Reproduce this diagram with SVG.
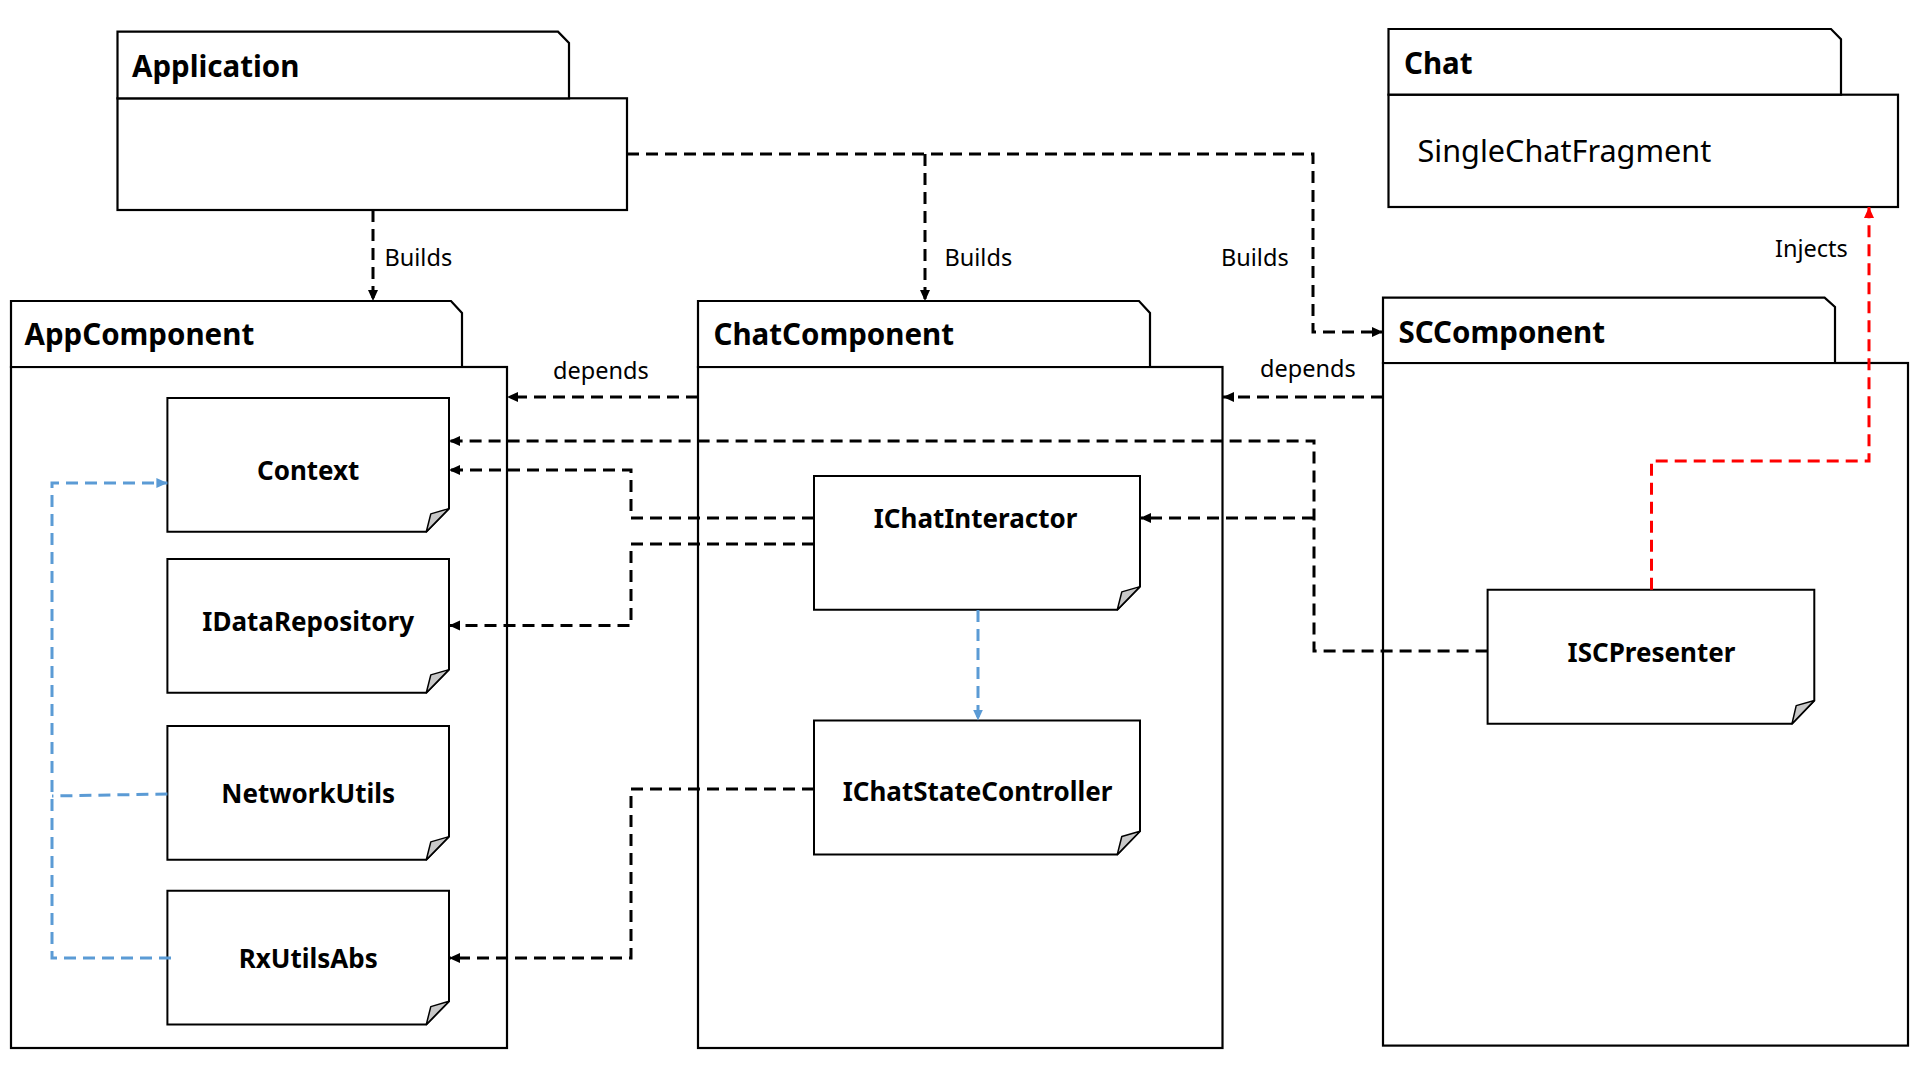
<svg xmlns="http://www.w3.org/2000/svg" width="1920" height="1080" viewBox="0 0 1920 1080">
<style>
  .pkg{fill:#fff;stroke:#000;stroke-width:2.2}
  .note{fill:#fff;stroke:#000;stroke-width:2}
  .fold{fill:#c8c8c8;stroke:#000;stroke-width:1.5;stroke-linejoin:round}
  .title{font-family:"Noto Sans","Open Sans",sans-serif;font-weight:bold;font-size:29.5px;fill:#000}
  .lbl{font-family:"Noto Sans","Open Sans",sans-serif;font-weight:bold;font-size:26px;fill:#000;text-anchor:middle}
  .txt{font-family:"Noto Sans","Open Sans",sans-serif;font-size:23.5px;fill:#000}
  .big{font-family:"Noto Sans","Open Sans",sans-serif;font-size:30.6px;fill:#000}
  .dk{fill:none;stroke:#000;stroke-width:3;stroke-dasharray:12 7}
  .bl{fill:none;stroke:#5B9BD5;stroke-width:3;stroke-dasharray:12 7}
  .rd{fill:none;stroke:#FF0000;stroke-width:3;stroke-dasharray:12 7}
</style>
<defs>
  <marker id="ak" markerUnits="userSpaceOnUse" markerWidth="12" markerHeight="12" refX="11" refY="6" orient="auto">
    <path d="M0,1 L11,6 L0,11 Z" fill="#000"/>
  </marker>
  <marker id="ab" markerUnits="userSpaceOnUse" markerWidth="12" markerHeight="12" refX="11" refY="6" orient="auto">
    <path d="M0,1 L11,6 L0,11 Z" fill="#5B9BD5"/>
  </marker>
  <marker id="ar" markerUnits="userSpaceOnUse" markerWidth="12" markerHeight="12" refX="11" refY="6" orient="auto">
    <path d="M0,1 L11,6 L0,11 Z" fill="#FF0000"/>
  </marker>
</defs>
<rect width="1920" height="1080" fill="#fff"/>

<g id="Application">
  <rect class="pkg" x="117.5" y="98.3" width="509.5" height="111.7"/>
  <path class="pkg" d="M117.5,31.7 H558 L569,43 V98.3 H117.5 Z"/>
  <text class="title" x="132" y="77">Application</text>
</g>

<g id="Chat">
  <rect class="pkg" x="1388.5" y="94.7" width="509.5" height="112.3"/>
  <path class="pkg" d="M1388.5,29 H1831 L1841,39.3 V94.7 H1388.5 Z"/>
  <text class="title" x="1404" y="74">Chat</text>
  <text class="big" x="1417.5" y="161.5">SingleChatFragment</text>
</g>

<g id="AppComponent">
  <rect class="pkg" x="11" y="367" width="496" height="681"/>
  <path class="pkg" d="M11,301 H451 L462,313 V367 H11 Z"/>
  <text class="title" x="24.5" y="345">AppComponent</text>
</g>

<g id="ChatComponent">
  <rect class="pkg" x="698" y="367" width="524.5" height="681"/>
  <path class="pkg" d="M698,301 H1139 L1150,313 V367 H698 Z"/>
  <text class="title" x="713.5" y="345">ChatComponent</text>
</g>

<g id="SCComponent">
  <rect class="pkg" x="1383" y="363" width="525" height="682.6"/>
  <path class="pkg" d="M1383,297.7 H1824.6 L1835,307 V363 H1383 Z"/>
  <text class="title" x="1398.5" y="342.7">SCComponent</text>
</g>

<g id="Context" transform="translate(167.4,398)">
  <path class="note" d="M0,0 H281.6 V110.6 L258.9,133.8 H0 Z"/>
  <path class="fold" d="M258.9,133.8 L263.4,115.9 L281.6,110.6 Z"/>
  <text class="lbl" x="140.8" y="82.4">Context</text>
</g>

<g id="IDataRepository" transform="translate(167.4,559)">
  <path class="note" d="M0,0 H281.6 V110.6 L258.9,133.8 H0 Z"/>
  <path class="fold" d="M258.9,133.8 L263.4,115.9 L281.6,110.6 Z"/>
  <text class="lbl" x="140.8" y="72">IDataRepository</text>
</g>

<g id="NetworkUtils" transform="translate(167.4,726)">
  <path class="note" d="M0,0 H281.6 V110.6 L258.9,133.8 H0 Z"/>
  <path class="fold" d="M258.9,133.8 L263.4,115.9 L281.6,110.6 Z"/>
  <text class="lbl" x="140.8" y="77">NetworkUtils</text>
</g>

<g id="RxUtilsAbs" transform="translate(167.4,890.7)">
  <path class="note" d="M0,0 H281.6 V110.6 L258.9,133.8 H0 Z"/>
  <path class="fold" d="M258.9,133.8 L263.4,115.9 L281.6,110.6 Z"/>
  <text class="lbl" x="140.8" y="77.5">RxUtilsAbs</text>
</g>

<g id="IChatInteractor" transform="translate(814,476)">
  <path class="note" d="M0,0 H326 V110.6 L303.3,133.8 H0 Z"/>
  <path class="fold" d="M303.3,133.8 L307.8,115.9 L326,110.6 Z"/>
  <text class="lbl" x="161.5" y="52">IChatInteractor</text>
</g>

<g id="IChatStateController" transform="translate(814,720.6)">
  <path class="note" d="M0,0 H326 V110.6 L303.3,133.8 H0 Z"/>
  <path class="fold" d="M303.3,133.8 L307.8,115.9 L326,110.6 Z"/>
  <text class="lbl" x="163.5" y="80">IChatStateController</text>
</g>

<g id="ISCPresenter" transform="translate(1487.6,589.8)">
  <path class="note" d="M0,0 H326.7 V110.7 L304.4,133.9 H0 Z"/>
  <path class="fold" d="M304.4,133.9 L308.6,115.8 L326.7,110.7 Z"/>
  <text class="lbl" x="163.9" y="72.2">ISCPresenter</text>
</g>

<g id="connectors">
  <path class="dk" d="M373,210 V301" marker-end="url(#ak)"/>
  <path class="dk" d="M627,154 H1313 V332 H1383" marker-end="url(#ak)"/>
  <path class="dk" d="M925,154 V301" marker-end="url(#ak)"/>
  <path class="dk" d="M698,397 H507" marker-end="url(#ak)"/>
  <path class="dk" d="M1383,397 H1223" marker-end="url(#ak)"/>
  <path class="dk" d="M1487.6,651 H1314 V441 H449" marker-end="url(#ak)"/>
  <path class="dk" d="M1314,518 H1140" marker-end="url(#ak)"/>
  <path class="dk" d="M814,518 H631 V470 H449" marker-end="url(#ak)"/>
  <path class="dk" d="M814,544 H631 V625.5 H449" marker-end="url(#ak)"/>
  <path class="dk" d="M814,789 H631 V958 H449" marker-end="url(#ak)"/>
  <path class="bl" d="M978,610 V720.6" marker-end="url(#ab)"/>
  <path class="bl" d="M171,958 H52 V483 H167.4" marker-end="url(#ab)"/>
  <path class="bl" d="M167.4,794 L52,796"/>
  <path class="rd" d="M1651.5,589.8 V461 H1869 V207" marker-end="url(#ar)"/>
  <text class="txt" x="384.5" y="266">Builds</text>
  <text class="txt" x="944.5" y="266">Builds</text>
  <text class="txt" x="1221" y="266">Builds</text>
  <text class="txt" x="1775" y="257">Injects</text>
  <text class="txt" x="553" y="379">depends</text>
  <text class="txt" x="1260" y="377">depends</text>
</g>
</svg>
